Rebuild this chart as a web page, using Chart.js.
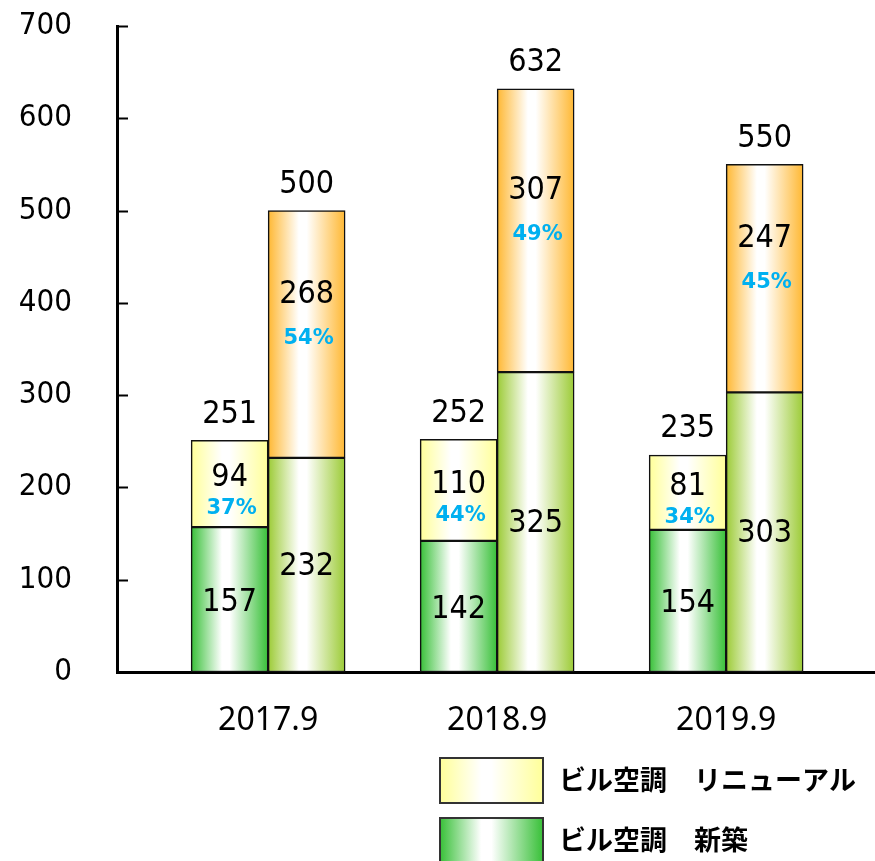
<!DOCTYPE html>
<html lang="ja">
<head>
<meta charset="UTF-8">
<title>ビル空調 新築・リニューアル</title>
<script src="https://cdn.jsdelivr.net/npm/chart.js"></script>
<style>
  body { margin: 0; background: #fff; }
  #wrap { width: 875px; height: 861px; }
</style>
</head>
<body>
<div id="wrap"><canvas id="chart" width="875" height="861"></canvas></div>
<script>
// 期ごとの値
const periods = ['2017.9', '2018.9', '2019.9'];
// 左の積み上げ（ビル空調）
const newBuildA = [157, 142, 154];
const renewalA = [94, 110, 81];
const shareA = [37, 44, 34];
// 右の積み上げ
const newBuildB = [232, 325, 303];
const renewalB = [268, 307, 247];
const shareB = [54, 49, 45];
const yTicks = [0, 100, 200, 300, 400, 500, 600, 700];

const BAR_W = 77;
const NUM_FONT = '"DejaVu Sans Condensed", "DejaVu Sans", sans-serif';
const PCT_FONT = '"DejaVu Sans", sans-serif';
const JP_FONT = '"Noto Sans CJK JP", sans-serif';

// 棒の左右グラデーション（端が色、中央が白）
function barFill(edge, stack) {
    return (c) => {
        const chart = c.chart;
        const xs = chart.scales.x;
        if (c.type !== 'data' || !xs || !chart.chartArea) return edge;
        const mid = xs.getPixelForValue(c.dataIndex) + (stack === 'a' ? -BAR_W / 2 : BAR_W / 2);
        if (!isFinite(mid)) return edge;
        const g = chart.ctx.createLinearGradient(mid - BAR_W / 2, 0, mid + BAR_W / 2, 0);
        g.addColorStop(0, edge);
        g.addColorStop(0.4, '#ffffff');
        g.addColorStop(0.5, '#ffffff');
        g.addColorStop(1, edge);
        return g;
    };
}

const toPoints = arr => arr.map((v, i) => ({ x: i, y: v }));

const datasets = [
    { label: 'ビル空調　新築', data: toPoints(newBuildA), stack: 'a', edge: '#38c038' },
    { label: 'ビル空調　リニューアル', data: toPoints(renewalA), stack: 'a', edge: '#ffff99' },
    { label: '新築', data: toPoints(newBuildB), stack: 'b', edge: '#9ccb36' },
    { label: 'リニューアル', data: toPoints(renewalB), stack: 'b', edge: '#ffb833' }
].map(d => ({
    label: d.label,
    data: d.data,
    stack: d.stack,
    backgroundColor: barFill(d.edge, d.stack),
    borderColor: '#111',
    borderWidth: 1.5,
    borderSkipped: false,
    barThickness: BAR_W
}));

// ラベル位置（中央からのずらし）
const labelStyle = [
    { value: 3 },
    { value: -6, share: shareA, shareAt: 25 },
    { value: 2 },
    { value: -40, share: shareB, shareAt: 4 }
];

const barLabels = {
    id: 'barLabels',
    afterDatasetsDraw(chart) {
        const ctx = chart.ctx;
        ctx.save();
        ctx.textAlign = 'center';
        ctx.textBaseline = 'middle';
        chart.data.datasets.forEach((ds, di) => {
            const st = labelStyle[di];
            chart.getDatasetMeta(di).data.forEach((bar, i) => {
                const mid = (bar.y + bar.base) / 2;
                ctx.font = '32px ' + NUM_FONT;
                ctx.fillStyle = '#000';
                ctx.fillText(String(ds.data[i].y), bar.x, mid + st.value);
                if (st.share) {
                    // 合計（同じ積み上げの和）
                    const total = chart.data.datasets
                        .filter(d => d.stack === ds.stack)
                        .reduce((s, d) => s + d.data[i].y, 0);
                    ctx.fillText(String(total), bar.x, bar.y - 26);
                    ctx.font = 'bold 21px ' + PCT_FONT;
                    ctx.fillStyle = '#00b0f0';
                    ctx.fillText(st.share[i] + '%', bar.x + 2, mid + st.shareAt);
                }
            });
        });
        ctx.restore();
    }
};

// 内向きの目盛り
const innerTicks = {
    id: 'innerTicks',
    afterDraw(chart) {
        const y = chart.scales.y;
        const ctx = chart.ctx;
        ctx.save();
        ctx.strokeStyle = '#000';
        ctx.lineWidth = 2;
        y.ticks.forEach(t => {
            const py = Math.round(y.getPixelForValue(t.value)) + 0.5;
            ctx.beginPath();
            ctx.moveTo(chart.chartArea.left, py);
            ctx.lineTo(chart.chartArea.left + 11, py);
            ctx.stroke();
        });
        ctx.restore();
    }
};

// 凡例（2項目のみ）
const boxLegend = {
    id: 'boxLegend',
    afterDraw(chart) {
        const ctx = chart.ctx;
        const items = [
            { ds: 1, edge: '#ffff99', y: 758 },
            { ds: 0, edge: '#38c038', y: 818 }
        ];
        ctx.save();
        items.forEach(it => {
            const x = 440, w = 103, h = 45;
            const g = ctx.createLinearGradient(x, 0, x + w, 0);
            g.addColorStop(0, it.edge);
            g.addColorStop(0.4, '#ffffff');
            g.addColorStop(0.5, '#ffffff');
            g.addColorStop(1, it.edge);
            ctx.fillStyle = g;
            ctx.fillRect(x, it.y, w, h);
            ctx.strokeStyle = '#333';
            ctx.lineWidth = 2;
            ctx.strokeRect(x, it.y, w, h);
            ctx.fillStyle = '#000';
            ctx.font = 'bold 27px ' + JP_FONT;
            ctx.textAlign = 'left';
            ctx.textBaseline = 'middle';
            ctx.fillText(chart.data.datasets[it.ds].label, 559, it.y + 22);
        });
        ctx.restore();
    }
};

new Chart(document.getElementById('chart'), {
    type: 'bar',
    data: { datasets },
    plugins: [barLabels, innerTicks, boxLegend],
    options: {
        responsive: false,
        animation: false,
        events: [],
        layout: { padding: { top: 26, left: 0, right: 0, bottom: 0 } },
        plugins: {
            legend: { display: false },
            tooltip: { enabled: false }
        },
        scales: {
            x: {
                type: 'linear',
                offset: false,
                bounds: 'data',
                min: -0.66,
                max: 2.65,
                grid: { display: false, drawTicks: false, offset: false },
                border: { display: true, width: 3, color: '#000' },
                afterBuildTicks: s => { s.ticks = periods.map((p, i) => ({ value: i })); },
                afterFit: s => { s.height = 189; s.paddingLeft = 0; s.paddingRight = 0; },
                ticks: {
                    padding: 30,
                    color: '#000',
                    font: { family: '"Noto Sans", sans-serif', size: 32 },
                    callback: v => periods[v]
                }
            },
            y: {
                stacked: true,
                min: 0,
                max: 700,
                grid: { display: false, drawTicks: false },
                border: { display: true, width: 3, color: '#000' },
                afterBuildTicks: s => { s.ticks = yTicks.map(v => ({ value: v })); },
                afterFit: s => { s.width = 117; s.paddingTop = 0; s.paddingBottom = 0; },
                ticks: {
                    padding: 45,
                    color: '#000',
                    font: { family: NUM_FONT, size: 31 }
                }
            }
        }
    }
});
</script>
</body>
</html>
